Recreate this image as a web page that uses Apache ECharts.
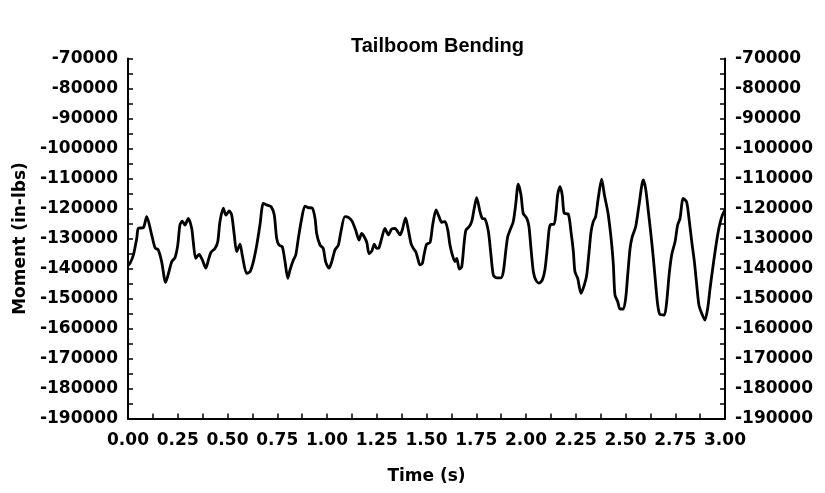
<!DOCTYPE html>
<html>
<head>
<meta charset="utf-8">
<title>Tailboom Bending</title>
<script src="https://cdn.jsdelivr.net/npm/echarts@6/dist/echarts.min.js"></script>
<style>
  html, body { margin: 0; padding: 0; background: #fff; }
  #chart { width: 825px; height: 493px; }
</style>
</head>
<body>
<div id="chart"></div>
<script>
// Time stamps (s) of the recorded tailboom bending trace
const timeS = [
  0.000, 0.010, 0.027, 0.044, 0.052, 0.077, 0.094, 0.119, 0.136, 0.152, 0.169, 0.189, 0.206, 0.220, 0.236,
  0.250, 0.261, 0.273, 0.286, 0.303, 0.320, 0.328, 0.340, 0.357, 0.374, 0.391, 0.404, 0.417, 0.437, 0.451,
  0.462, 0.479, 0.492, 0.508, 0.521, 0.534, 0.546, 0.563, 0.574, 0.596, 0.613, 0.630, 0.647, 0.663, 0.680,
  0.697, 0.719, 0.735, 0.747, 0.759, 0.775, 0.789, 0.803, 0.814, 0.831, 0.843, 0.856, 0.873, 0.889, 0.906,
  0.926, 0.940, 0.948, 0.965, 0.981, 0.993, 1.010, 1.024, 1.040, 1.057, 1.070, 1.090, 1.111, 1.127, 1.144,
  1.161, 1.174, 1.199, 1.211, 1.225, 1.238, 1.250, 1.261, 1.275, 1.291, 1.308, 1.325, 1.342, 1.355, 1.367,
  1.378, 1.395, 1.409, 1.422, 1.434, 1.446, 1.456, 1.467, 1.479, 1.489, 1.501, 1.518, 1.531, 1.548, 1.563,
  1.576, 1.593, 1.607, 1.618, 1.630, 1.643, 1.652, 1.665, 1.677, 1.688, 1.698, 1.714, 1.727, 1.740, 1.752,
  1.769, 1.780, 1.794, 1.811, 1.824, 1.836, 1.853, 1.874, 1.886, 1.898, 1.908, 1.920, 1.936, 1.948, 1.961,
  1.975, 1.986, 2.004, 2.015, 2.025, 2.037, 2.049, 2.065, 2.082, 2.095, 2.107, 2.117, 2.126, 2.141, 2.151,
  2.159, 2.171, 2.182, 2.192, 2.213, 2.226, 2.238, 2.246, 2.260, 2.276, 2.293, 2.305, 2.317, 2.327, 2.338,
  2.350, 2.363, 2.380, 2.394, 2.411, 2.422, 2.431, 2.439, 2.447, 2.461, 2.472, 2.489, 2.501, 2.511, 2.523,
  2.534, 2.551, 2.568, 2.589, 2.601, 2.615, 2.628, 2.640, 2.652, 2.662, 2.673, 2.695, 2.707, 2.719, 2.732,
  2.749, 2.762, 2.774, 2.790, 2.807, 2.819, 2.833, 2.846, 2.858, 2.869, 2.883, 2.899, 2.913, 2.925, 2.936,
  2.950, 2.963, 2.975, 2.987, 3.000
];

// Bending moment (in-lbs) at each time stamp
const momentInLbs = [
  -139000, -138300, -135500, -129900, -126600, -126400, -122700, -128800, -133100, -133800, -137700, -144600, -141000, -137700, -136400,
  -132200, -125500, -124200, -125500, -123300, -126600, -131100, -136600, -135300, -137200, -139900, -137200, -134600, -133300, -131100,
  -124400, -119900, -122200, -120800, -122200, -128800, -134400, -131900, -135500, -141600, -141100, -137700, -132200, -125500, -118300,
  -118800, -119400, -122200, -129900, -132200, -132700, -137700, -143300, -140500, -137200, -135500, -129900, -123300, -119200, -119700,
  -119900, -123300, -128300, -132200, -133300, -137700, -139900, -137700, -133800, -132200, -127700, -122700, -123100, -124400, -127200,
  -130500, -128300, -131100, -135000, -134200, -131900, -133300, -133100, -129900, -126600, -128800, -126800, -126600, -127700, -128800,
  -127200, -123100, -127200, -131600, -133300, -134400, -136600, -138800, -138300, -135000, -131900, -131300, -125500, -120500, -122700,
  -124600, -124400, -127200, -132200, -135500, -137700, -136600, -140200, -139400, -132200, -127200, -126100, -124400, -119900, -116400,
  -121100, -123300, -123500, -127700, -135500, -142200, -143100, -143100, -141100, -134400, -129400, -127200, -124400, -118800, -111900,
  -115500, -121600, -123300, -126100, -133300, -141100, -143800, -144900, -143800, -140500, -133300, -126600, -125300, -125300, -121100,
  -115500, -112700, -115500, -121600, -121900, -127700, -134400, -141100, -143300, -148300, -145500, -142200, -134400, -127700, -124400,
  -122700, -116600, -110200, -115500, -121100, -126600, -132200, -138800, -148800, -151100, -153500, -153500, -149900, -142200, -133300,
  -129400, -126100, -118800, -110500, -113300, -121100, -128800, -136600, -145500, -152200, -155300, -155500, -151100, -142200, -135500,
  -131100, -125500, -123300, -116600, -117800, -123300, -131100, -137700, -145500, -152200, -155000, -157200, -153300, -146600, -141100,
  -134400, -128800, -124900, -122200, -120500
];

// Axis ranges and tick steps
const timeRange = [0, 3];
const timeTickStep = 0.125;
const timeLabelStep = 0.25;
const momentRange = [-190000, -70000];
const momentTickStep = 5000;
const momentLabelStep = 10000;

const traceData = timeS.map((t, i) => [t, momentInLbs[i]]);

const FONT = '"DejaVu Sans", "Liberation Sans", Arial, sans-serif';
const TITLE_FONT = '"Liberation Sans", Arial, Helvetica, sans-serif';
const INK = '#000';

function isMultiple(v, step) {
  const r = Math.abs(v / step - Math.round(v / step));
  return r < 1e-6;
}

function momentAxis(position, showName) {
  return {
    type: 'value',
    position: position,
    min: momentRange[0],
    max: momentRange[1],
    interval: momentTickStep,
    name: showName ? 'Moment (in-lbs)' : '',
    nameLocation: 'middle',
    nameGap: 96,
    nameTextStyle: { color: INK, fontFamily: FONT, fontWeight: 'bold', fontSize: 17 },
    axisLine: { show: true, lineStyle: { color: INK, width: 2 } },
    axisTick: { show: true, inside: true, length: 5, lineStyle: { color: INK, width: 1.5 } },
    axisLabel: {
      color: INK, fontFamily: FONT, fontWeight: 'bold', fontSize: 17, margin: 10,
      formatter: v => isMultiple(v, momentLabelStep) ? String(v) : ''
    },
    splitLine: { show: false }
  };
}

const chart = echarts.init(document.getElementById('chart'), null, { renderer: 'canvas' });

chart.setOption({
  backgroundColor: '#fff',
  animation: false,
  title: {
    text: 'Tailboom Bending',
    left: 351,
    top: 36,
    padding: 0,
    textStyle: { color: INK, fontFamily: TITLE_FONT, fontWeight: 'bold', fontSize: 20, lineHeight: 20 }
  },
  grid: { left: 128, right: 100, top: 58.5, bottom: 74.5, containLabel: false },
  xAxis: {
    type: 'value',
    min: timeRange[0],
    max: timeRange[1],
    interval: timeTickStep,
    name: 'Time (s)',
    nameLocation: 'middle',
    nameGap: 50,
    nameTextStyle: { color: INK, fontFamily: FONT, fontWeight: 'bold', fontSize: 17 },
    axisLine: { show: true, lineStyle: { color: INK, width: 2 } },
    axisTick: { show: true, inside: true, length: 5, lineStyle: { color: INK, width: 1.5 } },
    axisLabel: {
      color: INK, fontFamily: FONT, fontWeight: 'bold', fontSize: 17, margin: 14,
      formatter: v => isMultiple(v, timeLabelStep) ? v.toFixed(2) : ''
    },
    splitLine: { show: false }
  },
  yAxis: [momentAxis('left', true), momentAxis('right', false)],
  series: [{
    type: 'line',
    data: traceData,
    yAxisIndex: 0,
    showSymbol: false,
    smooth: 0.25,
    lineStyle: { color: INK, width: 2.8 },
    silent: true
  }]
});
</script>
</body>
</html>
